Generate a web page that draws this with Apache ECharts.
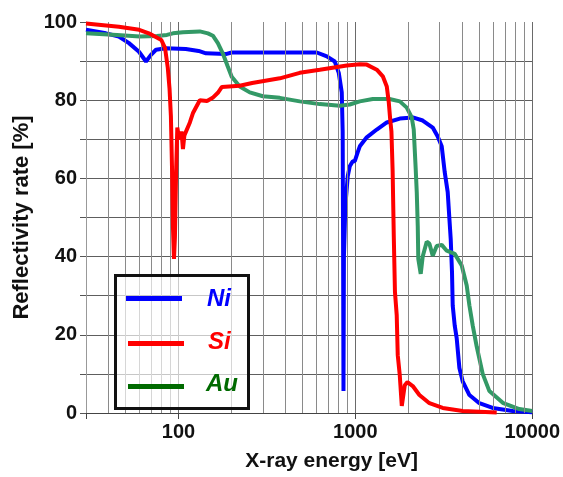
<!DOCTYPE html>
<html>
<head>
<meta charset="utf-8">
<script src="https://cdn.jsdelivr.net/npm/echarts@6/dist/echarts.min.js"></script>
<style>
  html, body { margin: 0; padding: 0; background: #fff; }
  #chart { width: 563px; height: 477px; }
</style>
</head>
<body>
<div id="chart"></div>
<script>
// Photon energy (eV) and reflectivity (%) for each mirror coating
const niEnergy = [30, 38.9, 46, 52.5, 59.8, 65.5, 69.9, 74.6, 85, 110, 130, 143, 185, 200, 312, 606, 690, 765, 806, 838, 848, 853, 857, 862, 878, 891, 906, 930, 967, 993, 1032, 1060, 1160, 1322, 1506, 1785, 2112, 2405, 2739, 2923, 3079, 3202, 3329, 3404, 3462, 3520, 3553, 3646, 3743, 3876, 4045, 4416, 5027, 5975, 7752, 10000];
const niRefl   = [98, 97.1, 96.3, 94.6, 92.4, 89.9, 91.6, 92.9, 93.3, 93.1, 92.6, 92, 91.8, 92.2, 92.2, 92.2, 91.2, 89.9, 87, 82, 72, 40, 5.6, 40, 53, 56.5, 60.6, 63.1, 64.4, 64.4, 66.7, 68.2, 70.5, 72.5, 74.3, 75.3, 75.6, 74.8, 73, 70.7, 68.2, 61.6, 56.5, 49.6, 44.5, 36.1, 27.5, 22.4, 19.1, 11.5, 8.1, 4.6, 2.5, 1.3, 0.5, 0.2];

const siEnergy = [30, 46, 60, 68, 80, 84, 87, 89, 90.6, 92, 93, 94.3, 95.5, 97, 98.5, 101, 104, 106, 108, 116, 121, 132, 145, 156, 167, 176, 222, 261, 374, 485, 630, 895, 1060, 1160, 1322, 1430, 1506, 1546, 1575, 1600, 1625, 1650, 1675, 1714, 1737, 1783, 1831, 1903, 1971, 2112, 2303, 2624, 3120, 4045, 6300];
const siRefl   = [99.6, 98.8, 98, 97.1, 95.4, 93.3, 88.3, 83, 76, 62, 48, 39.4, 45, 62, 73, 70, 72, 67.5, 71, 74.3, 76.8, 80, 79.8, 80.6, 81.9, 83.4, 83.7, 84.4, 85.6, 87, 87.8, 88.9, 89.2, 89.1, 87.8, 86.1, 83.5, 79.4, 75, 72, 62, 45, 31, 25, 14.8, 9.7, 1.8, 7.1, 7.9, 6.9, 4.6, 2.5, 1.3, 0.5, 0.1];

const auEnergy = [30, 44.9, 60.5, 75.5, 86, 93, 106, 132, 146.7, 156.5, 167, 178, 190, 200, 222, 253, 300, 374, 485, 630, 817, 930, 1060, 1255, 1560, 1785, 1953, 2084, 2139, 2195, 2225, 2254, 2270, 2343, 2404, 2533, 2624, 2739, 2885, 3079, 3286, 3647, 3995, 4263, 4416, 4609, 4856, 5250, 5727, 6869, 8456, 10000];
const auRefl   = [97.1, 96.7, 96.3, 96.4, 96.7, 97.1, 97.4, 97.6, 97.1, 96.5, 94.6, 92, 88.6, 86, 83.5, 82, 81, 80.6, 79.7, 79, 78.6, 78.9, 79.7, 80.3, 80.3, 79.7, 78.1, 75.6, 72.5, 62.3, 56.5, 47.8, 39.4, 35.6, 40, 43.8, 43.3, 40.2, 42.7, 43, 41.5, 40.7, 37.7, 32.6, 27.5, 22.4, 17, 10, 5.6, 2.5, 1, 0.5];

// Axis ticks
const xMajorLabels = [100, 1000, 10000];
const xMinorGrid = [40, 50, 60, 70, 80, 90, 200, 300, 400, 500, 600, 700, 800, 900, 2000, 3000, 4000, 5000, 6000, 7000, 8000, 9000];
const yLabelStep = 20;

const FONT = '"Liberation Sans", Arial, Helvetica, sans-serif';
const LEGEND_FONT = 'italic bold 24px ' + FONT;

function pairs(xs, ys) {
  return xs.map((x, i) => [x, ys[i]]);
}

const chart = echarts.init(document.getElementById('chart'), null, { renderer: 'canvas' });

chart.setOption({
  backgroundColor: '#ffffff',
  animation: false,
  grid: { left: 86, right: 30, top: 22, bottom: 62 },
  xAxis: {
    type: 'log',
    logBase: 10,
    min: 30,
    max: 10000,
    name: 'X-ray energy [eV]',
    nameLocation: 'middle',
    nameGap: 38,
    nameTextStyle: { fontFamily: FONT, fontSize: 21, fontWeight: 'bold', color: '#111', padding: [0, 0, 0, 45] },
    axisLine: { show: true, onZero: false, lineStyle: { color: '#444', width: 1 } },
    axisTick: { show: true, length: 6, lineStyle: { color: '#444' } },
    axisLabel: {
      fontFamily: FONT, fontSize: 20, fontWeight: 'bold', color: '#111', margin: 9,
      formatter: v => xMajorLabels.some(m => Math.abs(m - v) < 1e-6) ? String(Math.round(v)) : ''
    },
    splitLine: { show: true, lineStyle: { color: '#6a6a6a', width: 1 } }
  },
  yAxis: {
    type: 'value',
    min: 0,
    max: 100,
    interval: 10,
    name: 'Reflectivity rate [%]',
    nameLocation: 'middle',
    nameRotate: 90,
    nameGap: 52,
    nameTextStyle: { fontFamily: FONT, fontSize: 22, fontWeight: 'bold', color: '#111' },
    axisLine: { show: true, lineStyle: { color: '#999', width: 1 } },
    axisTick: { show: true, length: 6, lineStyle: { color: '#555' } },
    axisLabel: {
      fontFamily: FONT, fontSize: 20, fontWeight: 'bold', color: '#111', margin: 9,
      formatter: v => (v % yLabelStep === 0 ? String(v) : '')
    },
    splitLine: { show: true, showMaxLine: false, lineStyle: { color: '#5e5e5e', width: 1 } }
  },
  series: [
    {
      // minor logarithmic grid lines
      name: 'minor-grid',
      type: 'line',
      data: [],
      z: 1,
      silent: true,
      markLine: {
        silent: true,
        symbol: ['none', 'none'],
        label: { show: false },
        lineStyle: { color: '#8a8a8a', width: 1, type: 'solid' },
        emphasis: { disabled: true },
        data: xMinorGrid.map(v => ({ xAxis: v }))
      }
    },
    {
      name: 'Ni', type: 'line', data: pairs(niEnergy, niRefl),
      showSymbol: false, symbol: 'none', z: 3,
      lineStyle: { color: '#0000ff', width: 4 }
    },
    {
      name: 'Au', type: 'line', data: pairs(auEnergy, auRefl),
      showSymbol: false, symbol: 'none', z: 4,
      lineStyle: { color: '#339966', width: 4 }
    },
    {
      name: 'Si', type: 'line', data: pairs(siEnergy, siRefl),
      showSymbol: false, symbol: 'none', z: 5,
      lineStyle: { color: '#ff0000', width: 4 }
    }
  ],
  // legend panel: framed, translucent box with a swatch and label per coating
  graphic: [
    { type: 'rect', left: 114, top: 274, z: 100, z2: 0,
      shape: { x: 0, y: 0, width: 133, height: 133 },
      style: { fill: 'rgba(255,255,255,0.65)', stroke: '#111', lineWidth: 3 } },
    { type: 'rect', left: 126, top: 296, z: 101, shape: { width: 56, height: 5 }, style: { fill: '#0000ff' } },
    { type: 'rect', left: 128, top: 341, z: 101, shape: { width: 56, height: 5 }, style: { fill: '#ff0000' } },
    { type: 'rect', left: 128, top: 384, z: 101, shape: { width: 56, height: 5 }, style: { fill: '#006a00' } },
    { type: 'text', left: 207, top: 287, z: 101, style: { text: 'Ni', fill: '#0000ff', font: LEGEND_FONT } },
    { type: 'text', left: 208, top: 330, z: 101, style: { text: 'Si', fill: '#ff0000', font: LEGEND_FONT } },
    { type: 'text', left: 206, top: 372, z: 101, style: { text: 'Au', fill: '#006a00', font: LEGEND_FONT } }
  ]
});
</script>
</body>
</html>
